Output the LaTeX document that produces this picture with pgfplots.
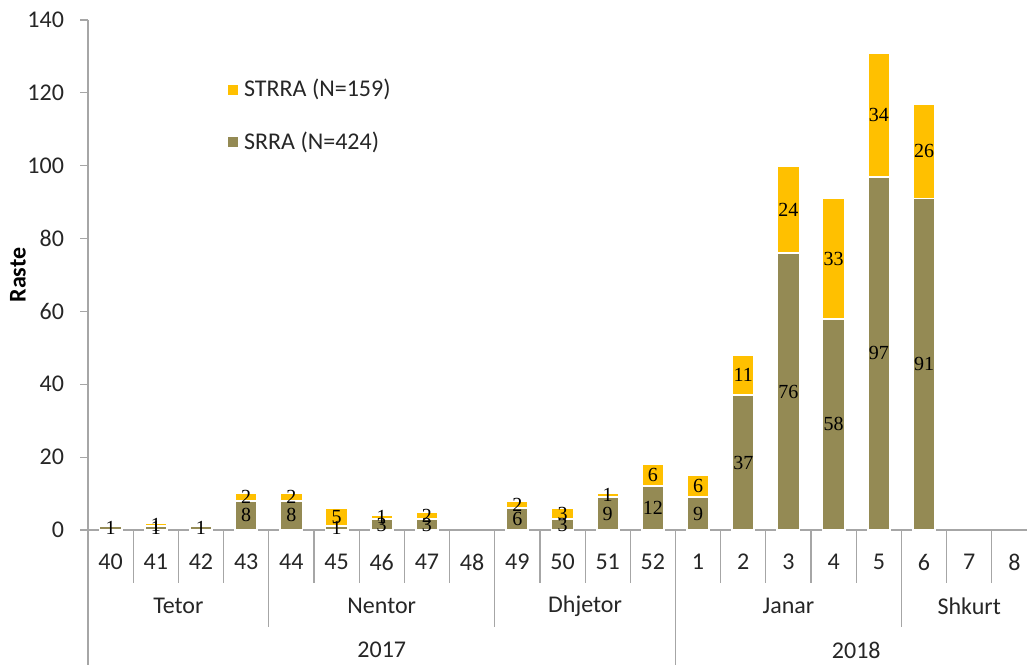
\documentclass[border=0pt]{standalone}
\usepackage{fontspec}
\setmainfont{Carlito}
\newfontfamily\lblfont{Liberation Serif}
\usepackage{pgfplots}
\pgfplotsset{compat=1.18}
\definecolor{olivebar}{HTML}{948A54}
\definecolor{goldbar}{HTML}{FFC000}
\definecolor{axgray}{HTML}{A6A6A6}
\newcommand{\txtfont}{\fontsize{12}{14}\selectfont}
\begin{document}
\begin{tikzpicture}
\begin{axis}[
  at={(44pt,67pt)}, anchor=south west,
  scale only axis, width=474.5pt, height=255pt,
  xmin=-0.5, xmax=20.5, ymin=0, ymax=140,
  axis x line*=bottom, axis y line*=left,
  axis line style={-, draw=axgray, line width=0.6pt},
  ytick={0,20,...,140},
  tick align=outside, major tick length=4pt,
  ytick style={draw=axgray, line width=0.6pt},
  xtick={0,...,20},
  xticklabels={40,41,42,43,44,45,46,47,48,49,50,51,52,1,2,3,4,5,6,7,8},
  xtick style={draw=none},
  /pgf/number format/assume math mode=true,
  tick label style={font=\txtfont, text=black!85},
  yticklabel style={xshift=-4.5pt},
  xticklabel style={anchor=center, yshift=-12pt},
  ylabel={Raste},
  every axis y label/.style={at={(rel axis cs:-0.0738,0.5)}, rotate=90, anchor=center, font=\txtfont\bfseries},
  clip=false,
  legend style={at={(rel axis cs:0.139,0.90)}, anchor=north west, draw=none, fill=none,
    font=\txtfont, text=black!85, row sep=12pt},
  legend cell align=left,
  legend image code/.code={\draw[#1] (0pt,-3pt) rectangle (6pt,3pt);},
]
% STRRA on top: drawn as the stack total, SRRA drawn over it
\addplot[ybar, bar width=0.49, bar shift=0pt, fill=goldbar, draw=white, line width=0.9pt]
  coordinates {(0,1) (1,2) (2,1) (3,10) (4,10) (5,6) (6,4) (7,5) (9,8) (10,6) (11,10) (12,18)
               (13,15) (14,48) (15,100) (16,91) (17,131) (18,117)};
\addlegendentry{STRRA (N=159)}
\addplot[ybar, bar width=0.49, bar shift=0pt, fill=olivebar, draw=white, line width=0.9pt]
  coordinates {(0,1) (1,1) (2,1) (3,8) (4,8) (5,1) (6,3) (7,3) (9,6) (10,3) (11,9) (12,12)
               (13,9) (14,37) (15,76) (16,58) (17,97) (18,91)};
\addlegendentry{SRRA (N=424)}
% labels SRRA
\addplot[draw=none, mark=none, forget plot, point meta=explicit,
  nodes near coords={\lblfont\pgfmathprintnumber{\pgfplotspointmeta}},
  every node near coord/.append style={anchor=center, inner sep=0pt, font=\fontsize{10}{12}\selectfont}]
  coordinates {(0,0.5)[1] (1,0.5)[1] (2,0.5)[1] (3,4)[8] (4,4)[8] (5,0.5)[1] (6,1.5)[3] (7,1.5)[3]
               (9,3)[6] (10,1.5)[3] (11,4.5)[9] (12,6)[12] (13,4.5)[9] (14,18.5)[37] (15,38)[76]
               (16,29)[58] (17,48.5)[97] (18,45.5)[91]};
% labels STRRA
\addplot[draw=none, mark=none, forget plot, point meta=explicit,
  nodes near coords={\lblfont\pgfmathprintnumber{\pgfplotspointmeta}},
  every node near coord/.append style={anchor=center, inner sep=0pt, font=\fontsize{10}{12}\selectfont}]
  coordinates {(1,1.5)[1] (3,9)[2] (4,9)[2] (5,3.5)[5] (6,3.5)[1] (7,4)[2] (9,7)[2] (10,4.5)[3]
               (11,9.5)[1] (12,15)[6] (13,12)[6] (14,42.5)[11] (15,88)[24] (16,74.5)[33]
               (17,114)[34] (18,104)[26]};
% category separators
\pgfplotsinvokeforeach{0.5,1.5,2.5,4.5,5.5,6.5,7.5,9.5,10.5,11.5,13.5,14.5,15.5,16.5,18.5,19.5}{
  \draw[axgray, line width=0.6pt] (axis cs:#1,0) -- ++(0pt,-26.5pt);}
\pgfplotsinvokeforeach{3.5,8.5,17.5}{
  \draw[axgray, line width=0.6pt] (axis cs:#1,0) -- ++(0pt,-48.5pt);}
\pgfplotsinvokeforeach{-0.5,12.5}{
  \draw[axgray, line width=0.6pt] (axis cs:#1,0) -- ++(0pt,-70pt);}
% month labels
\node[font=\txtfont, text=black!85] at ([yshift=-38pt]axis cs:1.5,0) {Tetor};
\node[font=\txtfont, text=black!85] at ([yshift=-38pt]axis cs:6,0) {Nentor};
\node[font=\txtfont, text=black!85] at ([yshift=-38pt]axis cs:10.5,0) {Dhjetor};
\node[font=\txtfont, text=black!85] at ([yshift=-38pt]axis cs:15,0) {Janar};
\node[font=\txtfont, text=black!85] at ([yshift=-38pt]axis cs:19,0) {Shkurt};
% year labels
\node[font=\txtfont, text=black!85] at ([yshift=-60pt]axis cs:6,0) {2017};
\node[font=\txtfont, text=black!85] at ([yshift=-60pt]axis cs:16.5,0) {2018};
\end{axis}
\pgfresetboundingbox
\useasboundingbox (0,0) rectangle (513.5pt,332pt);
\end{tikzpicture}
\end{document}
